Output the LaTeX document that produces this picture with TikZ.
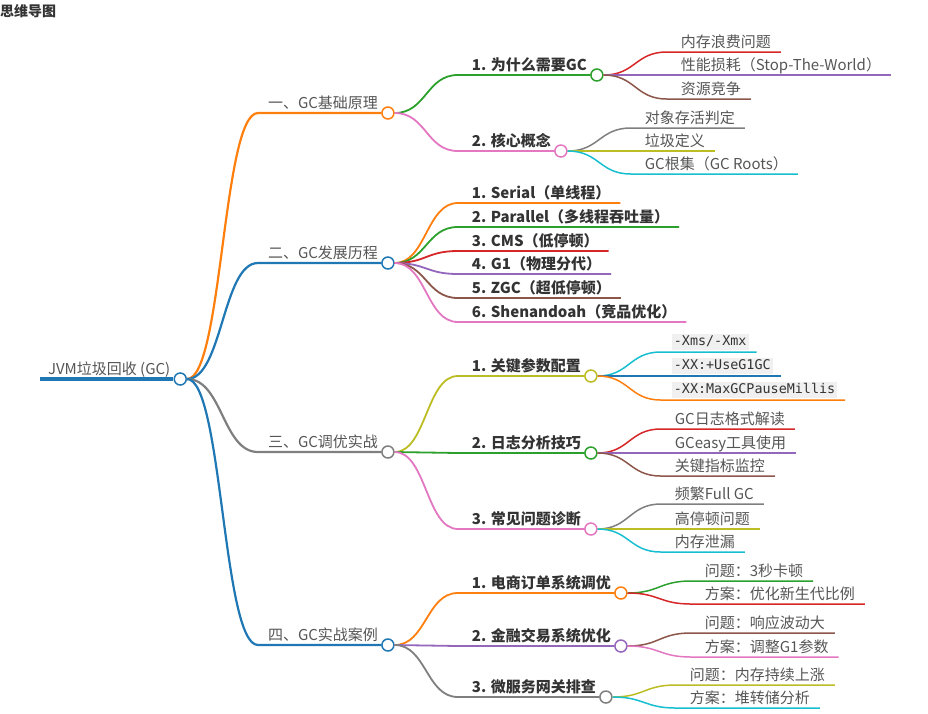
\documentclass[tikz,border=0pt]{standalone}
\usepackage{fontspec}
\setmainfont{Noto Sans CJK SC}
\newfontfamily\codefont{DejaVu Sans Mono}
\usetikzlibrary{positioning,calc}

\definecolor{cblue}{HTML}{1F77B4}
\definecolor{corange}{HTML}{FF7F0E}
\definecolor{cgreen}{HTML}{2CA02C}
\definecolor{cred}{HTML}{D62728}
\definecolor{cpurple}{HTML}{9467BD}
\definecolor{cbrown}{HTML}{8C564B}
\definecolor{cpink}{HTML}{E377C2}
\definecolor{cgray}{HTML}{7F7F7F}
\definecolor{colive}{HTML}{BCBD22}
\definecolor{ccyan}{HTML}{17BECF}
\definecolor{txt}{HTML}{555555}
\definecolor{txtdark}{HTML}{333333}
\definecolor{codebg}{HTML}{F0F0F0}

\tikzset{
  link/.style={to path={let \p1=(\tikztostart), \p2=(\tikztotarget) in
      .. controls ({(\x1+\x2)/2},\y1) and ({(\x1+\x2)/2},\y2) .. (\tikztotarget)}},
  dot/.style={circle, draw=#1, fill=white, line width=1.5pt, minimum size=12pt, inner sep=0pt},
  lw0/.style={line width=4pt},
  lw1/.style={line width=2.2pt},
  lw2/.style={line width=1.8pt},
  lw3/.style={line width=1.5pt},
  titletext/.style={inner sep=0pt, anchor=west, text=txtdark, font=\bfseries\fontsize{14}{16}\selectfont},
  roottext/.style={inner sep=0pt, outer xsep=10pt, anchor=base west, text=txt, font=\fontsize{15}{18}\selectfont},
  l1text/.style={roottext},
  l2text/.style={inner sep=0pt, outer xsep=10pt, anchor=base west, text=txtdark, font=\bfseries\fontsize{15}{18}\selectfont},
  leaftext/.style={roottext},
  codetext/.style={anchor=south west, fill=codebg, inner xsep=2pt, inner ysep=2pt, outer xsep=8pt, outer ysep=0pt,
    text height=10pt, text depth=2.5pt, text=txtdark, font=\codefont\fontsize{13.4}{16}\selectfont},
}

\begin{document}
\begin{tikzpicture}[x=1pt, y=-1pt]
  \useasboundingbox (0,0) rectangle (928,713);
  \node[titletext] (title) at (0,11) {思维导图};

  % root
  \coordinate (jvm0) at (40,379);
  \node[above right=5pt and -2pt of jvm0, roottext] (jvmt) {JVM垃圾回收 (GC)};
  \node[dot=cblue] (jvm) at (jvmt.east |- jvm0) {};
  \draw[lw0, cblue] (jvm0) -- (jvm);

  % first level
  \coordinate (basic0) at (258,113);
  \node[above right=5pt and 0pt of basic0, l1text] (basict) {一、GC基础原理};
  \node[dot=corange] (basic) at (basict.east |- basic0) {};
  \draw[lw1, corange] (jvm.east) to[link] (basic0) -- (basic);

  \coordinate (history0) at (258,263);
  \node[above right=5pt and 0pt of history0, l1text] (historyt) {二、GC发展历程};
  \node[dot=cblue] (history) at (historyt.east |- history0) {};
  \draw[lw1, cblue] (jvm.east) to[link] (history0) -- (history);

  \coordinate (tuning0) at (258,452);
  \node[above right=5pt and 0pt of tuning0, l1text] (tuningt) {三、GC调优实战};
  \node[dot=cgray] (tuning) at (tuningt.east |- tuning0) {};
  \draw[lw1, cgray] (jvm.east) to[link] (tuning0) -- (tuning);

  \coordinate (cases0) at (258,645);
  \node[above right=5pt and 0pt of cases0, l1text] (casest) {四、GC实战案例};
  \node[dot=cblue] (cases) at (casest.east |- cases0) {};
  \draw[lw1, cblue] (jvm.east) to[link] (cases0) -- (cases);

  % second level with circles
  \foreach \pa/\nm/\yy/\col/\tx in {basic/why/75/cgreen/1. 为什么需要GC, basic/concept/151/cpink/2. 核心概念,
      tuning/params/376/colive/1. 关键参数配置, tuning/logs/453/cgreen/2. 日志分析技巧, tuning/diag/529/cpink/3. 常见问题诊断,
      cases/shop/593/corange/1. 电商订单系统调优, cases/fin/646/cpurple/2. 金融交易系统优化, cases/gw/697/cgray/3. 微服务网关排查}{
    \coordinate (\nm0) at ($(\pa.center |- 0,\yy)+(70,0)$);
    \node[above right=5pt and 4pt of \nm0, l2text] (\nm t) {\tx};
    \node[dot=\col] (\nm) at (\nm t.east |- \nm0) {};
    \draw[lw2, \col] (\pa.east) to[link] (\nm0) -- (\nm);
  }

  % history items
  \foreach \nm/\yy/\col/\tx in {h1/203/corange/1. Serial（单线程）, h2/227/cgreen/2. Parallel（多线程吞吐量）,
      h3/251/cred/3. CMS（低停顿）, h4/274/cpurple/4. G1（物理分代）,
      h5/298/cbrown/5. ZGC（超低停顿）, h6/322/cpink/6. Shenandoah（竞品优化）}{
    \coordinate (\nm0) at ($(history.center |- 0,\yy)+(70,0)$);
    \node[above right=5pt and 4pt of \nm0, l2text] (\nm) {\tx};
    \draw[lw2, \col] (history.east) to[link] (\nm0) -- (\nm0 -| \nm.east);
  }

  % leaves
  \foreach \pa/\nm/\yy/\col/\tx in {why/w1/52/cred/内存浪费问题, why/w2/75/cpurple/性能损耗（Stop-The-World）, why/w3/99/cbrown/资源竞争,
      concept/k1/128/cgray/对象存活判定, concept/k2/151/colive/垃圾定义, concept/k3/174/ccyan/GC根集（GC Roots）,
      logs/g1/429/cred/GC日志格式解读, logs/g2/453/cpurple/GCeasy工具使用, logs/g3/476/cbrown/关键指标监控,
      diag/d1/504/cgray/频繁Full GC, diag/d2/529/colive/高停顿问题, diag/d3/552/ccyan/内存泄漏,
      shop/s1/581/cgreen/问题：3秒卡顿, shop/s2/604/cred/方案：优化新生代比例,
      fin/f1/633/cbrown/问题：响应波动大, fin/f2/657/cpink/方案：调整G1参数,
      gw/x1/685/colive/问题：内存持续上涨, gw/x2/708/ccyan/方案：堆转储分析}{
    \coordinate (\nm0) at ($(\pa.center |- 0,\yy)+(70,0)$);
    \node[above right=5pt and 4pt of \nm0, leaftext] (\nm) {\tx};
    \draw[lw3, \col] (\pa.east) to[link] (\nm0) -- (\nm0 -| \nm.east);
  }

  % parameters
  \coordinate (p10) at ($(params.center |- 0,352)+(70,0)$);
  \node[above right=2pt and 3pt of p10, codetext] (p1) {-Xms/-Xmx};
  \draw[lw3, ccyan] (params.east) to[link] (p10) -- (p10 -| p1.east);

  \coordinate (p20) at ($(params.center |- 0,376)+(70,0)$);
  \node[above right=2pt and 3pt of p20, codetext] (p2) {-XX:+UseG1GC};
  \draw[lw3, cblue] (params.east) to[link] (p20) -- (p20 -| p2.east);

  \coordinate (p30) at ($(params.center |- 0,400)+(70,0)$);
  \node[above right=2pt and 3pt of p30, codetext] (p3) {-XX:MaxGCPauseMillis};
  \draw[lw3, corange] (params.east) to[link] (p30) -- (p30 -| p3.east);
\end{tikzpicture}
\end{document}
